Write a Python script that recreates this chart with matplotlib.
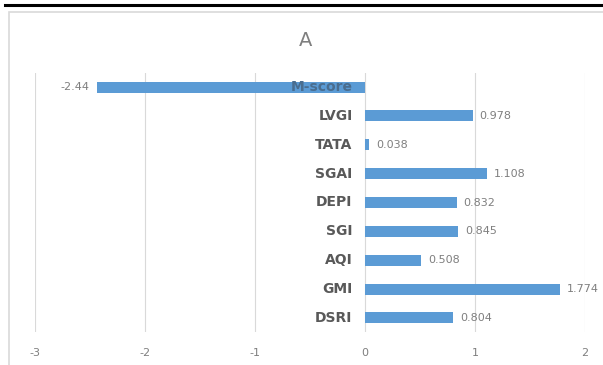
import matplotlib
matplotlib.use("Agg")
import matplotlib.pyplot as plt
from matplotlib.lines import Line2D
from matplotlib.patches import Rectangle

categories = ["M-score", "LVGI", "TATA", "SGAI", "DEPI", "SGI", "AQI", "GMI", "DSRI"]
values = [-2.44, 0.978, 0.038, 1.108, 0.832, 0.845, 0.508, 1.774, 0.804]
value_labels = ["-2.44", "0.978", "0.038", "1.108", "0.832", "0.845", "0.508", "1.774", "0.804"]
xticks = [-3, -2, -1, 0, 1, 2]
title = "A"

W, H = 603, 365
fig = plt.figure(figsize=(W / 100, H / 100), dpi=100)
fig.patch.set_facecolor("white")

# decorative frame and top rule
fig.add_artist(Line2D([5 / W, 1], [1 - 5 / H, 1 - 5 / H], color="black", lw=2.2))
fig.add_artist(Rectangle((9 / W, -0.05), 1.0, 1 - 12 / H + 0.05, fill=False,
                         edgecolor="#d9d9d9", lw=1.2))

left, right = 35 / W, 585 / W
top, bottom = 1 - 72.6 / H, 1 - 332.4 / H
ax = fig.add_axes([left, bottom, right - left, top - bottom])
ax.set_facecolor("none")

ypos = list(range(len(categories)))
ax.barh(ypos, values, height=0.38, color="#5b9bd5", zorder=2)

ax.set_xlim(-3, 2)
ax.set_ylim(len(categories) - 0.5, -0.5)
ax.set_xticks(xticks)
ax.set_xticklabels([str(t) for t in xticks], color="#7f7f7f", fontsize=8)
ax.set_yticks([])
ax.tick_params(axis="x", length=0, pad=11)
for s in ax.spines.values():
    s.set_visible(False)
ax.grid(axis="x", color="#d9d9d9", lw=0.8, zorder=0)

for y, v, lab, cat in zip(ypos, values, value_labels, categories):
    if v >= 0:
        ax.annotate(lab, (v, y), xytext=(5, 0), textcoords="offset points",
                    ha="left", va="center", fontsize=8, color="#7f7f7f")
    else:
        ax.annotate(lab, (v, y), xytext=(-5, 0), textcoords="offset points",
                    ha="right", va="center", fontsize=8, color="#7f7f7f")
    ax.annotate(cat, (0, y), xytext=(-9, 0), textcoords="offset points",
                ha="right", va="center", fontsize=10, fontweight="bold",
                color="#595959" if v >= 0 else "#4a6d8f", zorder=3)

fig.text(306 / W, 1 - 40 / H, title, ha="center", va="center", fontsize=14,
         color="#7f7f7f")

fig.savefig("out.png", dpi=100)
